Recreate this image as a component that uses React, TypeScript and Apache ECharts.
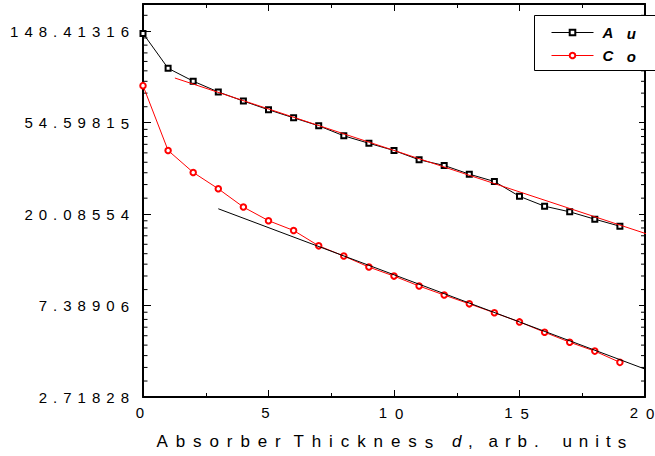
import React, { useEffect, useRef } from 'react';
import * as echarts from 'echarts';

// ---- data ----
const thickness = [0, 1, 2, 3, 4, 5, 6, 7, 8, 9, 10, 11, 12, 13, 14, 15, 16, 17, 18, 19];
const auCounts = [145, 99, 86, 76.4, 69.2, 62.9, 57.6, 52.8, 47.3, 43.6, 40.3, 36.4, 34.2, 31.1, 28.7, 24.4, 21.9, 20.6, 19.0, 17.6];
const coCounts = [81.9, 40.3, 31.7, 26.5, 21.7, 18.7, 16.8, 14.2, 12.7, 11.26, 10.2, 9.15, 8.29, 7.53, 6.83, 6.18, 5.52, 4.95, 4.49, 3.97];
const auFitX = [1.27, 20.4];
const auFitY = [89.0, 15.7];
const coFitX = [3, 20.4];
const coFitY = [21.3, 3.54];
const xTickLabels = ['0', '5', '10', '15', '20'];
const yTickValues = [2.71828, 7.38906, 20.08554, 54.59815, 148.41316];
const yTickLabels = ['2.71828', '7.38906', '20.08554', '54.59815', '148.41316'];
const legendNames = ['Au', 'Co'];
const xTitleParts = ['Absorber Thickness', 'd', ', arb. units'];

const X_MIN = 0;
const X_MAX = 20;
const Y_MIN = 2.71828;
const Y_MAX = 200;

const FONT = 'Arial, "Liberation Sans", sans-serif';

// character spacing of each text (px), and of each of its spaces in order
type Spacing = { ls: number; spaces?: number[] };
const spacingFor = (s: string): Spacing | null => {
  if (legendNames.includes(s)) return { ls: 13.5 };
  if (yTickLabels.includes(s)) return { ls: 6 };
  if (xTickLabels.includes(s)) return { ls: 8 };
  if (s === xTitleParts[0]) return { ls: 7.9, spaces: [0] };
  if (s === xTitleParts[2]) return { ls: 7.0, spaces: [4, 11.9] };
  return null;
};

export default function App() {
  const ref = useRef<HTMLDivElement>(null);

  useEffect(() => {
    const el = ref.current!;
    const chart = echarts.init(el, null, { renderer: 'svg' });

    // minor ticks of the e-based log axis: 8 linear subdivisions of each e-interval
    const minorY: number[][] = [];
    yTickValues.forEach((lo) => {
      const hi = lo * Math.E;
      const step = (hi - lo) / 9;
      for (let k = 1; k <= 8; k++) {
        const v = lo + k * step;
        if (v < Y_MAX) minorY.push([0, Math.log(v)]);
      }
    });

    const yLabel = (value: number) => {
      const i = yTickValues.findIndex((t) => Math.abs(Math.log(t) - value) < 1e-3);
      return i >= 0 ? yTickLabels[i] : '';
    };

    const axisLineStyle = { color: '#000', width: 2 };

    const option: any = {
      animation: false,
      backgroundColor: '#fff',
      grid: { left: 143, top: 4, width: 502, height: 393, containLabel: false },
      xAxis: [
        {
          type: 'value',
          min: X_MIN,
          max: X_MAX,
          interval: 5,
          axisLine: { show: true, onZero: false, lineStyle: axisLineStyle },
          axisTick: { show: true, inside: true, length: 7, lineStyle: { color: '#000', width: 1 } },
          minorTick: { show: true, splitNumber: 2, length: 4, lineStyle: { color: '#000', width: 1 } },
          splitLine: { show: false },
          axisLabel: {
            margin: 8,
            fontSize: 15,
            fontFamily: FONT,
            color: '#000',
            padding: [0, 6, 0, 0],
            formatter: (v: number) => {
              const i = Math.round(v / 5);
              return Math.abs(v - i * 5) < 1e-6 ? xTickLabels[i] : '';
            },
          },
        },
        {
          type: 'value',
          position: 'top',
          min: X_MIN,
          max: X_MAX,
          interval: 5,
          axisLine: { show: true, onZero: false, lineStyle: axisLineStyle },
          axisTick: { show: true, inside: true, length: 7, lineStyle: { color: '#000', width: 1 } },
          minorTick: { show: true, splitNumber: 2, length: 4, lineStyle: { color: '#000', width: 1 } },
          splitLine: { show: false },
          axisLabel: { show: false },
        },
      ],
      yAxis: [
        {
          type: 'value',
          min: Math.log(Y_MIN),
          max: Math.log(Y_MAX),
          interval: 1,
          axisLine: { show: true, onZero: false, lineStyle: axisLineStyle },
          axisTick: { show: true, inside: true, length: 8, lineStyle: { color: '#000', width: 1 } },
          splitLine: { show: false },
          axisLabel: {
            margin: 14,
            fontSize: 15,
            fontFamily: FONT,
            color: '#000',
            showMaxLabel: false,
            formatter: yLabel,
          },
        },
        {
          type: 'value',
          position: 'right',
          min: Math.log(Y_MIN),
          max: Math.log(Y_MAX),
          interval: 1,
          axisLine: { show: true, onZero: false, lineStyle: axisLineStyle },
          axisTick: { show: true, inside: true, length: 6, lineStyle: { color: '#000', width: 1 } },
          splitLine: { show: false },
          axisLabel: { show: false },
        },
      ],
      legend: {
        data: legendNames,
        orient: 'vertical',
        left: 534,
        top: 15,
        padding: [10, 20, 8, 17],
        itemGap: 8,
        itemWidth: 42,
        itemHeight: 7,
        backgroundColor: 'transparent',
        borderWidth: 0,
        selectedMode: false,
        lineStyle: { width: 1 },
        itemStyle: { borderWidth: 1 },
        textStyle: {
          fontSize: 15,
          fontWeight: 'bold',
          fontStyle: 'italic',
          fontFamily: FONT,
          color: '#000',
          padding: [0, 0, 0, 4],
        },
        z: 10,
      },
      graphic: [
        {
          type: 'rect',
          z: 8,
          shape: { x: 534.5, y: 15.5, width: 140, height: 55 },
          style: { fill: '#fff', stroke: '#000', lineWidth: 1 },
        },
        {
          type: 'text',
          x: 156.5,
          y: 441.7,
          style: { text: xTitleParts[0], fontSize: 17, fontFamily: FONT, fill: '#000', align: 'left', verticalAlign: 'middle' },
        },
        {
          type: 'text',
          x: 452,
          y: 441.7,
          style: { text: xTitleParts[1], fontSize: 17, fontStyle: 'italic', fontFamily: FONT, fill: '#000', align: 'left', verticalAlign: 'middle' },
        },
        {
          type: 'text',
          x: 468,
          y: 441.7,
          style: { text: xTitleParts[2], fontSize: 17, fontFamily: FONT, fill: '#000', align: 'left', verticalAlign: 'middle' },
        },
      ],
      series: [
        {
          name: 'Au',
          type: 'line',
          data: thickness.map((x, i) => [x, Math.log(auCounts[i])]),
          symbol: 'emptyRect',
          symbolSize: 5,
          lineStyle: { color: '#000', width: 1 },
          itemStyle: { color: '#000', borderWidth: 1 },
          z: 3,
        },
        {
          name: 'Co',
          type: 'line',
          data: thickness.map((x, i) => [x, Math.log(coCounts[i])]),
          symbol: 'emptyCircle',
          symbolSize: 5.5,
          lineStyle: { color: '#ff0000', width: 1 },
          itemStyle: { color: '#ff0000', borderWidth: 1 },
          z: 3,
        },
        {
          name: 'Au fit',
          type: 'line',
          data: auFitX.map((x, i) => [x, Math.log(auFitY[i])]),
          symbol: 'none',
          clip: false,
          lineStyle: { color: '#ff0000', width: 1 },
          z: 4,
        },
        {
          name: 'Co fit',
          type: 'line',
          data: coFitX.map((x, i) => [x, Math.log(coFitY[i])]),
          symbol: 'none',
          clip: false,
          lineStyle: { color: '#000', width: 1 },
          z: 4,
        },
        {
          name: 'minor y ticks',
          type: 'custom',
          silent: true,
          data: minorY,
          renderItem: (_p: any, api: any) => {
            const v = api.value(1);
            const l = api.coord([X_MIN, v]);
            const r = api.coord([X_MAX, v]);
            return {
              type: 'group',
              children: [
                { type: 'line', shape: { x1: l[0], y1: l[1], x2: l[0] + 4.5, y2: l[1] }, style: { stroke: '#000', lineWidth: 1 } },
                { type: 'line', shape: { x1: r[0], y1: r[1], x2: r[0] - 4, y2: r[1] }, style: { stroke: '#000', lineWidth: 1 } },
              ],
            };
          },
          z: 1,
        },
      ],
    };

    chart.setOption(option);

    // wide character spacing, as in the reference (no trailing space after the last character)
    const SVGNS = 'http://www.w3.org/2000/svg';
    const applySpacing = () => {
      el.querySelectorAll('text').forEach((t) => {
        if (t.getAttribute('data-ls')) return;
        const s = t.textContent || '';
        const spec = spacingFor(s);
        if (!spec || s.length < 2) return;
        t.setAttribute('data-ls', '1');
        t.setAttribute('letter-spacing', String(spec.ls));
        while (t.firstChild) t.removeChild(t.firstChild);
        let run = '';
        let spaceIdx = 0;
        const flush = () => {
          if (run) t.appendChild(document.createTextNode(run));
          run = '';
        };
        for (let i = 0; i < s.length; i++) {
          const c = s[i];
          const last = i === s.length - 1;
          if (c === ' ' && spec.spaces && spec.spaces[spaceIdx] !== undefined) {
            flush();
            const sp = document.createElementNS(SVGNS, 'tspan');
            sp.setAttribute('letter-spacing', String(spec.spaces[spaceIdx]));
            sp.textContent = ' ';
            t.appendChild(sp);
            spaceIdx++;
          } else if (last) {
            flush();
            const sp = document.createElementNS(SVGNS, 'tspan');
            sp.setAttribute('letter-spacing', '0');
            sp.textContent = c;
            t.appendChild(sp);
          } else {
            run += c;
          }
        }
        flush();
      });
    };
    applySpacing();
    chart.on('finished', applySpacing);

    return () => {
      chart.dispose();
    };
  }, []);

  return (
    <div
      ref={ref}
      style={{ position: 'absolute', left: 0, top: 0, width: 655, height: 456, background: '#fff' }}
    />
  );
}
